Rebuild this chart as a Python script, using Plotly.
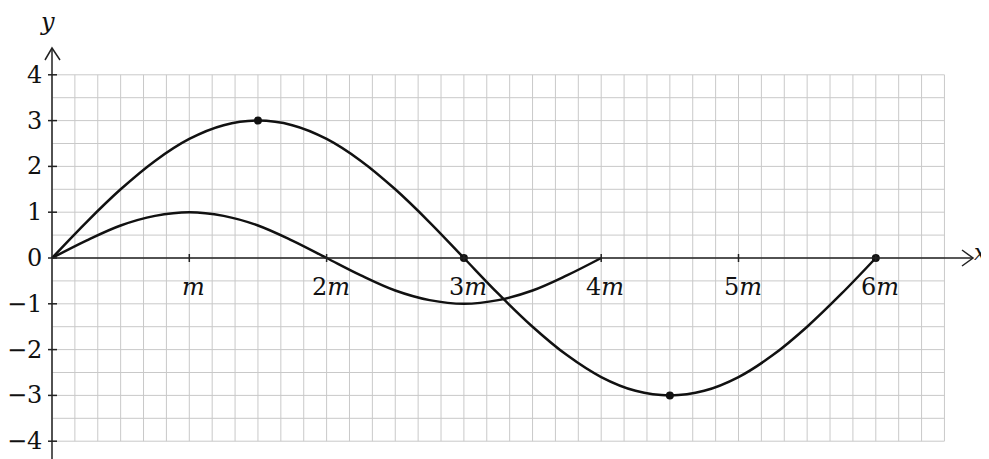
import plotly.graph_objects as go

# x in units of m
x_small = [0, 0.25, 0.5, 0.75, 1, 1.25, 1.5, 1.75, 2, 2.25, 2.5, 2.75, 3, 3.25, 3.5, 3.75, 4]
y_small = [0, 0.38, 0.71, 0.92, 1, 0.92, 0.71, 0.38, 0, -0.38, -0.71, -0.92, -1, -0.92, -0.71, -0.38, 0]

x_big = [0, 0.25, 0.5, 0.75, 1, 1.25, 1.5, 1.75, 2, 2.25, 2.5, 2.75, 3, 3.25, 3.5, 3.75,
         4, 4.25, 4.5, 4.75, 5, 5.25, 5.5, 5.75, 6]
y_big = [0, 0.78, 1.5, 2.12, 2.6, 2.9, 3, 2.9, 2.6, 2.12, 1.5, 0.78, 0, -0.78, -1.5, -2.12,
         -2.6, -2.9, -3, -2.9, -2.6, -2.12, -1.5, -0.78, 0]

pts_x = [1.5, 3, 4.5, 6]
pts_y = [3, 0, -3, 0]

x_ticks = [1, 2, 3, 4, 5, 6]
x_tick_labels = ["<i>m</i>", "2<i>m</i>", "3<i>m</i>", "4<i>m</i>", "5<i>m</i>", "6<i>m</i>"]
y_ticks = [4, 3, 2, 1, 0, -1, -2, -3, -4]
y_tick_labels = ["4", "3", "2", "1", "0", "\u22121", "\u22122", "\u22123", "\u22124"]

OFF = 8                   # page body margin
W, H = 989 - OFF, 459 - OFF
X0PX, PXM = 52 - OFF, 137.3     # pixel of x=0, pixels per m
Y0PX, PXU = 258 - OFF, 45.8     # pixel of y=0, pixels per unit

def px2x(p):
    return (p - OFF - X0PX) / PXM

def px2y(p):
    return (Y0PX - (p - OFF)) / PXU

FONT = "DejaVu Serif"
grid_color = "#c9c9c9"

fig = go.Figure()

shapes = []
nx = 39
for i in range(nx + 1):
    xv = i / 6
    shapes.append(dict(type="line", x0=xv, x1=xv, y0=-4, y1=4,
                       line=dict(color=grid_color, width=1), layer="below"))
for j in range(17):
    yv = -4 + j * 0.5
    shapes.append(dict(type="line", x0=0, x1=6.5, y0=yv, y1=yv,
                       line=dict(color=grid_color, width=1), layer="below"))

axis_line = dict(color="#222", width=1.5)
shapes.append(dict(type="line", x0=0, x1=px2x(973), y0=0, y1=0, line=axis_line))
shapes.append(dict(type="path",
                   path=f"M {px2x(962)},{px2y(250)} L {px2x(973)},{px2y(258)} L {px2x(962)},{px2y(266)}",
                   line=axis_line))
shapes.append(dict(type="line", x0=0, x1=0, y0=px2y(461), y1=px2y(48), line=axis_line))
shapes.append(dict(type="path",
                   path=f"M {px2x(45)},{px2y(60)} L {px2x(52)},{px2y(48)} L {px2x(60)},{px2y(60)}",
                   line=axis_line))
for t in x_ticks:
    shapes.append(dict(type="line", x0=t, x1=t, y0=px2y(254), y1=px2y(262), line=axis_line))
for t in y_ticks:
    shapes.append(dict(type="line", x0=px2x(48), x1=px2x(57), y0=t, y1=t, line=axis_line))

fig.add_trace(go.Scatter(x=x_small, y=y_small, mode="lines", line=dict(color="#111", width=2.5, shape="spline"),
                         hoverinfo="skip"))
fig.add_trace(go.Scatter(x=x_big, y=y_big, mode="lines", line=dict(color="#111", width=2.5, shape="spline"),
                         hoverinfo="skip"))
fig.add_trace(go.Scatter(x=pts_x, y=pts_y, mode="markers", marker=dict(color="#111", size=8),
                         hoverinfo="skip"))

annotations = []
for t, lab in zip(x_ticks, x_tick_labels):
    annotations.append(dict(x=t, y=px2y(287), text=lab, showarrow=False, xanchor="center", yanchor="middle",
                            xshift=4, font=dict(family=FONT, size=24, color="#111")))
for t, lab in zip(y_ticks, y_tick_labels):
    annotations.append(dict(x=px2x(44), y=t, text=lab, showarrow=False, xanchor="right", yanchor="middle",
                            font=dict(family=FONT, size=24, color="#111")))
annotations.append(dict(x=px2x(47), y=px2y(22), text="<i>y</i>", showarrow=False, xanchor="center",
                        yanchor="middle", font=dict(family=FONT, size=24, color="#111")))
annotations.append(dict(x=px2x(989), y=px2y(252), text="<i>x</i>", showarrow=False, xanchor="right",
                        yanchor="middle", font=dict(family=FONT, size=22, color="#111")))

fig.update_layout(
    width=W, height=H,
    margin=dict(l=0, r=0, t=0, b=0),
    paper_bgcolor="white", plot_bgcolor="white",
    showlegend=False,
    font=dict(family=FONT),
    shapes=shapes,
    annotations=annotations,
    xaxis=dict(range=[px2x(OFF), px2x(OFF + W)], visible=False, fixedrange=True),
    yaxis=dict(range=[px2y(OFF + H), px2y(OFF)], visible=False, fixedrange=True),
)

fig.write_html("out.html")
